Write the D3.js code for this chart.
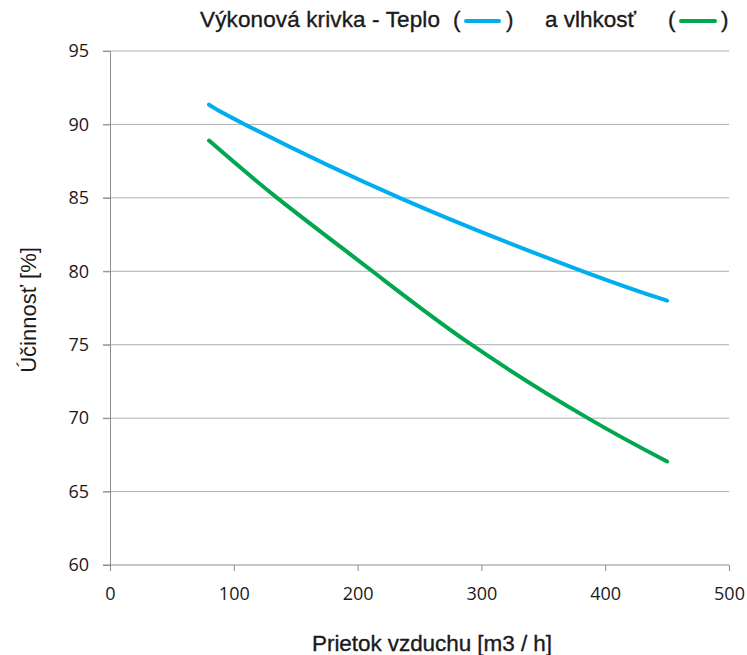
<!DOCTYPE html>
<html>
<head>
<meta charset="utf-8">
<script src="https://cdn.jsdelivr.net/npm/d3@7"></script>
<style>
  body { margin: 0; background: #fff; }
  text { fill: #1a1a1a; }
</style>
</head>
<body>
<div id="container"></div>
<script>
/* DATA */
const xTicks = [0, 100, 200, 300, 400, 500];
const yTicks = [60, 65, 70, 75, 80, 85, 90, 95];
const teploX = [80, 109, 234, 382, 450];
const teplo = [91.35, 90, 85, 80, 78.0];
const vlhkostX = [80, 135, 212, 292, 386, 450];
const vlhkost = [88.9, 85, 80, 75, 70, 67.05];

/* CONSTANTS */
const width = 747, height = 655;
const margin = { top: 51, bottom: 90, left: 110, right: 18 };
const titleFont = "Liberation Sans";

const svg = d3.select("#container").append("svg")
  .attr("width", width).attr("height", height);

/* SCALES */
const xScale = d3.scaleLinear().domain([0, 500]).range([margin.left, width - margin.right]);
const yScale = d3.scaleLinear().domain([60, 95]).range([height - margin.bottom, margin.top]);

// gridlines
svg.append("g").selectAll("line")
  .data(yTicks.slice(1))
  .join("line")
  .attr("x1", xScale(0) - 7).attr("x2", xScale(500))
  .attr("y1", d => yScale(d)).attr("y2", d => yScale(d))
  .attr("stroke", "#b0b0b0").attr("stroke-width", 1);

// y axis
const yAxis = svg.append("g")
  .attr("transform", `translate(${xScale(0)},0)`)
  .call(d3.axisLeft(yScale).tickValues(yTicks).tickSize(7).tickPadding(14));
yAxis.select(".domain").attr("stroke", "#8c8c8c");
yAxis.selectAll(".tick line").attr("stroke", "#8c8c8c");
yAxis.selectAll("text").attr("font-family", "Open Sans").attr("font-size", 18).attr("fill", "#1a1a1a");

// x axis
const xAxis = svg.append("g")
  .attr("transform", `translate(0,${yScale(60)})`)
  .call(d3.axisBottom(xScale).tickValues(xTicks).tickSize(6).tickPadding(16));
xAxis.select(".domain").attr("stroke", "#8c8c8c").attr("d", `M${xScale(0) - 7},0H${xScale(500)}`);
xAxis.selectAll(".tick line").attr("stroke", "#8c8c8c");
xAxis.selectAll("text").attr("font-family", "Open Sans").attr("font-size", 18).attr("fill", "#1a1a1a");

// lines
const line = d3.line().curve(d3.curveNatural);
const series = [
  { xs: teploX, values: teplo, color: "#00aeef" },
  { xs: vlhkostX, values: vlhkost, color: "#00a74f" }
];
svg.append("g").selectAll("path")
  .data(series)
  .join("path")
  .attr("d", s => line(s.xs.map((x, i) => [xScale(x), yScale(s.values[i])])))
  .attr("fill", "none")
  .attr("stroke", s => s.color)
  .attr("stroke-width", 4)
  .attr("stroke-linecap", "round");

// axis labels
svg.append("text")
  .attr("x", 432).attr("y", 651)
  .attr("text-anchor", "middle")
  .attr("font-family", titleFont).attr("font-size", 22.5)
  .attr("stroke", "#1a1a1a").attr("stroke-width", 0.35)
  .attr("textLength", 240)
  .text("Prietok vzduchu [m3 / h]");

svg.append("text")
  .attr("transform", "translate(36,310) rotate(-90)")
  .attr("text-anchor", "middle")
  .attr("font-family", titleFont).attr("font-size", 22)
  .text("Účinnosť [%]");

// title with inline legend
const title = svg.append("g").attr("font-family", titleFont).attr("font-size", 22.5)
  .attr("stroke", "#1a1a1a").attr("stroke-width", 0.35);
title.append("text").attr("x", 200).attr("y", 27).attr("textLength", 240).text("Výkonová krivka - Teplo");
title.append("text").attr("x", 453).attr("y", 27).text("(");
title.append("text").attr("x", 506).attr("y", 27).text(")");
title.append("text").attr("x", 545).attr("y", 27).attr("textLength", 91).text("a vlhkosť");
title.append("text").attr("x", 668).attr("y", 27).text("(");
title.append("text").attr("x", 721).attr("y", 27).text(")");
title.append("line").attr("x1", 466).attr("x2", 499).attr("y1", 21).attr("y2", 21)
  .attr("stroke", "#00aeef").attr("stroke-width", 4).attr("stroke-linecap", "round");
title.append("line").attr("x1", 681).attr("x2", 715).attr("y1", 21).attr("y2", 21)
  .attr("stroke", "#00a74f").attr("stroke-width", 4).attr("stroke-linecap", "round");
</script>
</body>
</html>
